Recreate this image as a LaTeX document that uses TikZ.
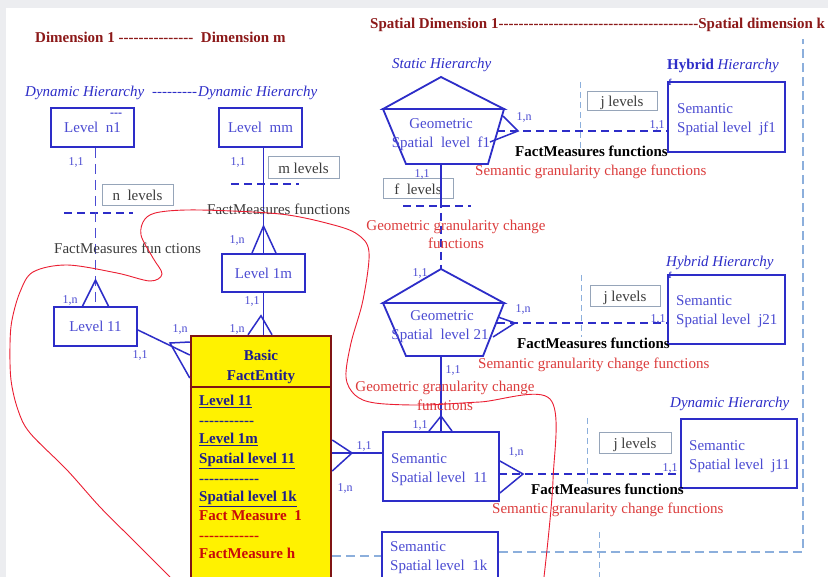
\documentclass[tikz,border=0pt]{standalone}
\usepackage{fontspec}
\setmainfont{Liberation Serif}
\usetikzlibrary{calc}
\definecolor{bblue}{RGB}{45,45,200}
\definecolor{tblue}{RGB}{75,75,210}
\definecolor{dred}{RGB}{140,25,25}
\definecolor{rtext}{RGB}{220,60,60}
\definecolor{lblue}{RGB}{140,175,220}
\definecolor{gbox}{RGB}{150,165,185}
\definecolor{gtext}{RGB}{60,60,60}
\definecolor{navy}{RGB}{30,30,140}
\definecolor{fred}{RGB}{200,10,10}
\definecolor{bgc}{RGB}{236,237,240}
\definecolor{ebord}{RGB}{128,20,20}
\definecolor{curvec}{RGB}{235,30,50}
\newcommand\fsz[1]{\fontsize{#1}{#1}\selectfont}
\newcommand\hyphs[1]{\foreach\k in {1,...,#1}{\mbox{-}}}
\tikzset{
  tx/.style={inner sep=0pt, font=\fsz{15}, text height=1.5ex, text depth=.25ex, yshift=-2.5pt},
  lab/.style={tx, text=tblue},
  card/.style={tx, text=tblue, font=\fsz{12}},
  hier/.style={tx, text=bblue, font=\fsz{15}\itshape},
  ttl/.style={tx, text=dred, font=\fsz{15}\bfseries},
  fmf/.style={tx, text=black, font=\fsz{15}\bfseries},
  redt/.style={tx, text=rtext},
  greyt/.style={tx, text=gtext},
  bx/.style={draw=bblue, line width=1.8pt, inner sep=0pt},
  gbx/.style={draw=gbox, line width=1pt, inner sep=0pt, fill=white},
  conn/.style={draw=bblue, line width=1.5pt},
  bdash/.style={draw=bblue, line width=1.4pt, dash pattern=on 8pt off 5pt},
  vdash/.style={draw=tblue, line width=1.4pt, dash pattern=on 10pt off 6pt},
  ldash/.style={draw=lblue, line width=1.3pt, dash pattern=on 9pt off 5pt},
  lvdash/.style={draw=lblue, line width=1pt, dash pattern=on 6pt off 4pt},
  penta/.style={draw=bblue, line width=1.8pt, line join=miter},
  ent/.style={draw=ebord, line width=2.5pt, fill=yellow, inner sep=0pt},
  entb/.style={tx, text=navy, font=\fsz{15}\bfseries},
  entr/.style={tx, text=fred, font=\fsz{15}\bfseries},
}
\begin{document}
\begin{tikzpicture}[x=1pt, y=-1pt]
\useasboundingbox (0,0) rectangle (828,577);
\fill[bgc] (0,0) rectangle (828,577);
\fill[white] (6,8) rectangle (828,577);

% titles
\node[ttl, anchor=west] (t1) at (35,37) {Dimension 1 \hyphs{15}\ \ Dimension m};
\node[ttl, anchor=west] (t2) at (370,23) {Spatial Dimension 1\hyphs{40}Spatial dimension k};

% hierarchy labels
\node[hier, anchor=west] (h1) at (25,91) {Dynamic Hierarchy};
\node[hier, anchor=west] (h1d) at (152,91) {\hyphs{9}};
\node[hier, anchor=west] (h2) at (198,91) {Dynamic Hierarchy};
\node[hier, anchor=west] (h3) at (392,63) {Static Hierarchy};
\node[hier, anchor=west] (h4) at (667,64) {{\upshape\bfseries Hybrid} Hierarchy};
\node[hier, anchor=west] (h5) at (666,261) {Hybrid Hierarchy};
\node[hier, anchor=west] (h6) at (670,402) {Dynamic Hierarchy};

% level boxes
\node[bx, minimum width=83pt, minimum height=39pt] (n1) at (92.5,127.5) {};
\node[lab] at (n1) {Level\ \ n1};
\node[tx, text=bblue, font=\fsz{12}\bfseries, anchor=base west, yshift=0pt] (n1d) at (110,114) {\hyphs{3}};
\node[bx, minimum width=83pt, minimum height=39pt] (mm) at (260.5,127.5) {};
\node[lab] at (mm) {Level\ \ mm};
\node[bx, minimum width=83pt, minimum height=39pt] (l11) at (95.5,326.5) {};
\node[lab] at (l11) {Level 11};
\node[bx, minimum width=83pt, minimum height=38pt] (l1m) at (263.5,273) {};
\node[lab] at (l1m) {Level 1m};

% semantic boxes
\node[bx, minimum width=117pt, minimum height=70pt] (jf1) at (726.5,117) {};
\node[bx, minimum width=117pt, minimum height=69pt] (j21) at (726.5,309.5) {};
\node[bx, minimum width=116pt, minimum height=69pt] (j11) at (739,453.5) {};
\node[bx, minimum width=116pt, minimum height=69pt] (s11) at (441,466.5) {};
\node[bx, minimum width=116pt, minimum height=58pt] (s1k) at (440,561) {};
\node[lab, anchor=west] (jf1a) at (677,108) {Semantic};
\node[lab, anchor=west] (jf1b) at (677,127) {Spatial level\ \ jf1};
\node[lab, anchor=west] (j21a) at (676,300) {Semantic};
\node[lab, anchor=west] (j21b) at (676,319) {Spatial level\ \ j21};
\node[lab, anchor=west] (j11a) at (689,445) {Semantic};
\node[lab, anchor=west] (j11b) at (689,464) {Spatial level\ \ j11};
\node[lab, anchor=west] (s11a) at (391,458) {Semantic};
\node[lab, anchor=west] (s11b) at (391,477) {Spatial level\ \ 11};
\node[lab, anchor=west] (s1ka) at (390,546) {Semantic};
\node[lab, anchor=west] (s1kb) at (390,565) {Spatial level\ \ 1k};
\node[tx, text=bblue, font=\fsz{9}\bfseries, yshift=0pt] (fm1) at (670,80) {f};
\node[tx, text=bblue, font=\fsz{9}\bfseries, yshift=0pt] (fm2) at (670,273) {f};

% grey level-count boxes
\node[gbx, minimum width=71pt, minimum height=21pt] (nlev) at (137.5,195.5) {};
\node[greyt] at (nlev) {n\ \ levels};
\node[gbx, minimum width=71pt, minimum height=22pt] (mlev) at (303.5,168) {};
\node[greyt] at (mlev) {m levels};
\node[gbx, minimum width=70pt, minimum height=20pt] (flev) at (418,189) {};
\node[greyt] at (flev) {f\ \ levels};
\node[gbx, minimum width=70pt, minimum height=19pt] (jl1) at (622,101.5) {};
\node[greyt] at (jl1) {j levels};
\node[gbx, minimum width=70pt, minimum height=21pt] (jl2) at (625,296.5) {};
\node[greyt] at (jl2) {j levels};
\node[gbx, minimum width=72pt, minimum height=21pt] (jl3) at (635,443.5) {};
\node[greyt] at (jl3) {j levels};

% pentagons
\coordinate (f1a) at (441,77); \coordinate (f1ul) at (383,109); \coordinate (f1ur) at (504,109);
\coordinate (f1lr) at (488,164); \coordinate (f1ll) at (406,164); \coordinate (f1b) at (441,164);
\draw[penta] (f1ul) -- (f1a) -- (f1ur) -- cycle;
\draw[penta] (f1ul) -- (f1ur) -- (f1lr) -- (f1ll) -- cycle;
\node[lab] (f1t1) at (441,123) {Geometric};
\node[lab] (f1t2) at (441,142) {Spatial\ \ level\ \ f1};
\coordinate (p2a) at (441,269); \coordinate (p2ul) at (383,303); \coordinate (p2ur) at (504,303);
\coordinate (p2lr) at (483,356); \coordinate (p2ll) at (406,356); \coordinate (p2b) at (441,356);
\draw[penta] (p2ul) -- (p2a) -- (p2ur) -- cycle;
\draw[penta] (p2ul) -- (p2ur) -- (p2lr) -- (p2ll) -- cycle;
\node[lab] (p2t1) at (442,315) {Geometric};
\node[lab] (p2t2) at (440,334) {Spatial\ \ level 21};

% entity
\node[ent, minimum width=140pt, minimum height=264pt] (ent) at (261,468) {};
\draw[ebord, line width=2pt] (ent.west |- 0,387) -- (ent.east |- 0,387);
\node[entb] (eb1) at (261,355) {Basic};
\node[entb] (eb2) at (261,375) {FactEntity};
\node[entb, anchor=west] (e1) at (199,400) {\underline{Level 11}};
\node[entb, anchor=west] (e2) at (199,420) {\hyphs{11}};
\node[entb, anchor=west] (e3) at (199,438) {\underline{Level 1m}};
\node[entb, anchor=west] (e4) at (199,458) {\underline{Spatial level 11}};
\node[entb, anchor=west] (e5) at (199,478) {\hyphs{12}};
\node[entb, anchor=west] (e6) at (199,496) {\underline{Spatial level 1k}};
\node[entr, anchor=west] (e7) at (199,515) {Fact Measure\ \ 1};
\node[entr, anchor=west] (e8) at (199,535) {\hyphs{12}};
\node[entr, anchor=west] (e9) at (199,553) {FactMeasure h};

% level separators
\draw[bdash] (64,213) -- (133,213);
\draw[bdash] (231,184) -- (299,184);
\draw[bdash] (403,206) -- (471,206);

% left dimension connectors
\draw[vdash] (l11.north |- n1.south) -- (l11.north);
\draw[conn] (l11.north) ++(-13,0) -- ++(13,-26) -- ++(13,26);
\draw[conn] (l1m.north |- mm.south) -- (l1m.north);
\draw[conn] (l1m.north) ++(-11.5,0) -- ++(11.5,-27) -- ++(12.5,27);
\draw[conn] (l1m.south) -- (l1m.south |- ent.north);
\draw[conn] (ent.north) ++(-13,0) -- ++(13,-19) -- ++(11,19);
\draw[conn] (l11.east |- 0,330) -- (ent.west |- 0,355);
\draw[conn] (ent.west |- 0,342) -- (170,343) -- (ent.west |- 0,378);

% spatial connectors
\draw[conn] (f1b) -- (441,200);
\draw[bdash] (441,200) -- (p2a);
\draw[conn] (p2b) -- (s11.north);
\draw[conn] (s11.north) ++(-12,0) -- ++(12,-15) -- ++(11,15);
\coordinate (ea) at (352,453);
\draw[conn] (ent.east |- ea) -- (s11.west |- ea);
\draw[conn] (ent.east |- 0,440) -- (ea) -- (ent.east |- 0,471);
\coordinate (f1r) at (497,131);
\draw[bdash] (f1r) -- (jf1.west |- f1r);
\draw[conn] (503,116) -- (518,131) -- (490,142);
\coordinate (p2r) at (497,323);
\draw[bdash] (p2r) -- (j21.west |- p2r);
\draw[conn] (498,317) -- (515,323) -- (493,337);
\coordinate (s11r) at (499,474);
\draw[bdash] (s11r) -- (j11.west |- s11r);
\draw[conn] (s11.east |- 0,461) -- (523,474) -- (s11.east |- 0,493);

% light blue frame lines
\draw[lvdash] (580,82) -- (580,150);
\draw[lvdash] (581,275) -- (581,337);
\draw[lvdash] (587,418) -- (587,490);
\draw[lvdash] (599,532) -- (599,577);
\coordinate (frm) at (803,552);
\draw[ldash] (ent.east |- 0,556) -- (s1k.west |- 0,556);
\draw[ldash] (s1k.east |- frm) -- (frm) -- (803,39);

% cardinalities
\node[card] at (76,160) {1,1};
\node[card] at (238,160) {1,1};
\node[card] at (70,298) {1,n};
\node[card] at (237,238) {1,n};
\node[card] at (252,299) {1,1};
\node[card] at (237,327) {1,n};
\node[card] at (180,327) {1,n};
\node[card] at (140,353) {1,1};
\node[card] at (364,444) {1,1};
\node[card] at (345,486) {1,n};
\node[card] at (422,172) {1,1};
\node[card] at (524,115) {1,n};
\node[card] at (657,123) {1,1};
\node[card] at (420,271) {1,1};
\node[card] at (523,307) {1,n};
\node[card] at (658,317) {1,1};
\node[card] at (453,368) {1,1};
\node[card] at (420,423) {1,1};
\node[card] at (516,450) {1,n};
\node[card] at (670,466) {1,1};

% function labels
\node[greyt, anchor=west] (fa) at (207,209) {FactMeasures functions};
\node[greyt, anchor=west] (fb) at (54,248) {FactMeasures fun ctions};
\node[fmf, anchor=west] (fc) at (515,151) {FactMeasures functions};
\node[fmf, anchor=west] (fd) at (517,343) {FactMeasures functions};
\node[fmf, anchor=west] (fe) at (531,489) {FactMeasures functions};
\node[redt, anchor=west] (ra) at (475,170) {Semantic granularity change functions};
\node[redt, anchor=west] (rb) at (478,363) {Semantic granularity change functions};
\node[redt, anchor=west] (rc) at (492,508) {Semantic granularity change functions};
\node[redt] (ga) at (456,225) {Geometric granularity change};
\node[redt] (gb) at (456,243) {functions};
\node[redt] (gc) at (445,386) {Geometric granularity change};
\node[redt] (gd) at (445,405) {functions};

% red freehand curve
\draw[curvec, line width=0.9pt] plot[smooth, tension=0.55] coordinates {
 (170,577) (133,540) (100,507) (67,470) (30,433) (18,410) (11,380) (10,345) (12,320)
 (20,292) (33,272) (67,265) (117,273) (150,281) (162,274) (153,258) (141,235) (145,219)
 (160,212) (200,210) (280,214) (330,224) (357,234) (369,252) (363,300) (351,343)
 (346,377) (355,395) (375,403) (423,405) (480,402) (550,399) (553,480) (544,577)};
\end{tikzpicture}
\end{document}
